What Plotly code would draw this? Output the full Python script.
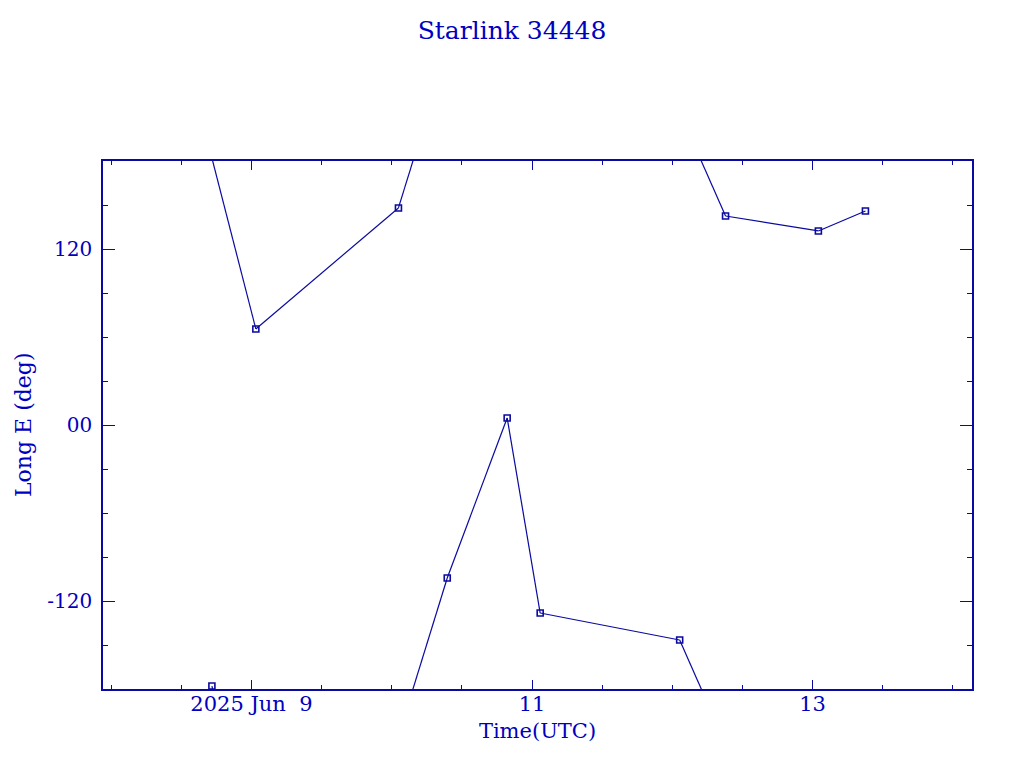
import plotly.graph_objects as go
import pandas as pd

# ---- data ----
times = ["2025-06-08 17:14", "2025-06-09 00:45", "2025-06-10 01:09", "2025-06-10 09:30",
         "2025-06-10 19:45", "2025-06-11 01:24", "2025-06-12 01:16", "2025-06-12 09:07",
         "2025-06-13 01:00", "2025-06-13 09:03"]
longitudes = [-178.0, 65.5, 148.0, -104.3, 4.8, -128.2, -146.6, 142.5, 132.3, 145.9]

title = "Starlink 34448"
x_title = "Time(UTC)"
y_title = "Long E (deg)"
x_tick_vals = ["2025-06-09", "2025-06-11", "2025-06-13"]
x_tick_text = ["2025 Jun\u00a0\u00a09", "11", "13"]
y_tick_vals = [-120, 0, 120]
y_tick_text = ["-120", "00", "120"]
x_range = ["2025-06-07 22:36", "2025-06-14 03:17"]
y_range = [-180, 180]

COL = "#0a0aa0"
TXT = "#0000c0"
FONT = "DejaVu Serif"

# build wrapped line segments
t = pd.to_datetime(times)
lx, ly = [], []
for i in range(len(t) - 1):
    a, b = longitudes[i], longitudes[i + 1]
    d = b - a
    if abs(d) > 180:
        s = 360 if d < 0 else -360
        lx += [t[i], t[i + 1], None, t[i], t[i + 1], None]
        ly += [a, b + s, None, a - s, b, None]
    else:
        lx += [t[i], t[i + 1], None]
        ly += [a, b, None]

fig = go.Figure()
fig.add_trace(go.Scatter(x=lx, y=ly, mode="lines", line=dict(color=COL, width=1.2),
                         connectgaps=False, hoverinfo="skip"))
fig.add_trace(go.Scatter(x=t, y=longitudes, mode="markers",
                         marker=dict(symbol="square-open", size=6, color=COL,
                                     line=dict(color=COL, width=1.6)),
                         cliponaxis=False))

minor_x = pd.date_range("2025-06-07 12:00", "2025-06-14 12:00", freq="12h")

PLOT_W = 1024 - 95 - 60
fig.update_layout(
    width=1024, height=768,
    margin=dict(l=95, r=60, t=153, b=87),
    paper_bgcolor="white", plot_bgcolor="white",
    showlegend=False,
    font=dict(family=FONT, color=TXT, size=20),
    title=dict(text=title, x=504 / 1024, xref="container", xanchor="center",
               y=1 - 22 / 768, yref="container", yanchor="middle",
               font=dict(family=FONT, size=25, color=TXT)),
    annotations=[dict(text=y_title, xref="paper", yref="paper",
                      x=-80 / PLOT_W, y=0.5, xanchor="center", yanchor="middle",
                      textangle=-90, showarrow=False,
                      font=dict(family=FONT, size=22, color=TXT))],
)
fig.update_xaxes(
    type="date", range=x_range, showgrid=False, zeroline=False, automargin=False,
    showline=True, linecolor=COL, linewidth=1.5, mirror="ticks",
    ticks="inside", ticklen=9, tickwidth=1.2, tickcolor=COL,
    tickmode="array", tickvals=x_tick_vals, ticktext=x_tick_text,
    tickfont=dict(family=FONT, size=21, color=TXT), ticklabelstandoff=-5,
    minor=dict(tickmode="array", tickvals=list(minor_x), ticks="inside", ticklen=4,
               tickwidth=1.2, tickcolor=COL, showgrid=False),
    title=dict(text=x_title, font=dict(family=FONT, size=21, color=TXT), standoff=8),
)
fig.update_yaxes(
    range=y_range, showgrid=False, zeroline=False, automargin=False,
    showline=True, linecolor=COL, linewidth=1.5, mirror="ticks",
    ticks="inside", ticklen=12, tickwidth=1.2, tickcolor=COL,
    tickmode="array", tickvals=y_tick_vals, ticktext=y_tick_text,
    tickfont=dict(family=FONT, size=20, color=TXT), ticklabelstandoff=5,
    minor=dict(dtick=30, tick0=0, ticks="inside", ticklen=5, tickwidth=1.2,
               tickcolor=COL, showgrid=False),
)

fig.write_html("out.html")
